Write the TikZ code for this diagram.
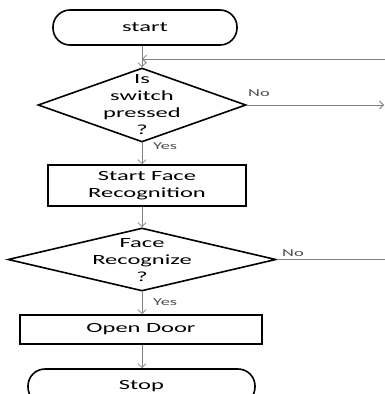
\documentclass[tikz,border=0pt]{standalone}
\usepackage{fontspec}
\setmainfont{Carlito}[FakeStretch=1.75]
\usetikzlibrary{shapes.geometric,arrows.meta}
\begin{document}
\begin{tikzpicture}[x=1pt,y=-1pt,
  shapeline/.style={draw=black,line width=1.6pt},
  term/.style={shapeline,rectangle,rounded corners=17pt,minimum height=35pt,inner sep=0pt,font=\fontsize{14}{17.5}\selectfont},
  proc/.style={shapeline,rectangle,inner sep=0pt,align=center,font=\fontsize{14}{17.5}\selectfont},
  decision/.style={shapeline,diamond,inner sep=0pt},
  conn/.style={draw=black!50,line width=0.8pt},
  arr/.style={conn,-{Straight Barb[length=4pt,width=8pt]}},
  lbl/.style={font=\fontsize{10.5}{12}\selectfont,text=black!70,inner sep=0pt},
  txt/.style={font=\fontsize{14}{17}\selectfont,align=center,inner sep=0pt}
]
\useasboundingbox (0,0) rectangle (385,394);
\clip (0,0) rectangle (385,394);
\fill[white] (0,0) rectangle (385,394);

\node[term,minimum width=184pt] (start) at (145,27.5) {start};
\node[decision,minimum width=208pt,minimum height=74pt] (d1) at (142,105) {};
\node[txt] (d1t) at (142,105) {Is\\switch\\pressed\\?};
\node[proc,minimum width=198pt,minimum height=41pt] (box1) at (147,185.5) {Start Face\\Recognition};
\node[decision,minimum width=268pt,minimum height=63pt] (d2) at (142,259.5) {};
\node[txt] (d2t) at (142,260) {Face\\Recognize\\?};
\node[proc,minimum width=242pt,minimum height=29pt] (box2) at (141,329.5) {Open Door};
\node[term,minimum width=227pt] (stop) at (141.5,386.5) {Stop};

\coordinate (fb) at (386,59);
\coordinate (no1end) at (384,105);
\coordinate (no2end) at (386,259.5);

\draw[arr] (start.south -| d1.north) -- (d1.north);
\draw[arr] (fb) -- (fb -| d1.north);
\draw[arr] (d1.east) -- (no1end);
\draw[arr] (d1.south) -- (box1.north -| d1.south);
\draw[arr] (box1.south -| d1.south) -- (d2.north);
\draw[arr] (d2.south) -- (box2.north -| d2.south);
\draw[conn] (d2.east) -- (no2end);
\draw[arr] (box2.south -| d2.south) -- (stop.north -| d2.south);

\node[lbl,anchor=west] (yes1) at (153,146) {Yes};
\node[lbl,anchor=west] (no1) at (248,93) {No};
\node[lbl,anchor=west] (no2) at (282,253) {No};
\node[lbl,anchor=west] (yes2) at (153,302) {Yes};
\end{tikzpicture}
\end{document}
